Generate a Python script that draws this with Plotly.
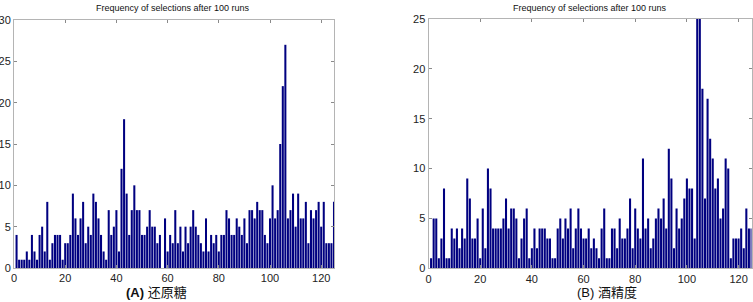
import plotly.graph_objects as go

# ---------------- data ----------------
runs_a = list(range(1, 126))
freq_a = [4, 1, 1, 1, 2, 1, 4, 2, 1, 4, 5, 2, 8, 1, 3, 4, 4, 4, 1, 3,
          3, 4, 9, 6, 4, 6, 8, 3, 5, 4, 9, 8, 6, 4, 2, 1, 7, 4, 5, 7,
          2, 12, 18, 9, 4, 7, 10, 7, 7, 4, 4, 5, 7, 5, 5, 3, 4, 0, 6, 2,
          4, 3, 7, 3, 5, 2, 5, 3, 5, 7, 5, 4, 3, 2, 6, 2, 4, 3, 4, 2,
          4, 4, 7, 6, 4, 4, 6, 5, 4, 6, 3, 7, 7, 6, 8, 7, 7, 4, 3, 6,
          10, 6, 7, 15, 22, 27, 6, 7, 9, 5, 9, 6, 6, 8, 3, 7, 6, 7, 8, 5,
          8, 3, 3, 3, 8]

runs_b = list(range(1, 126))
freq_b = [1, 5, 5, 1, 3, 8, 1, 1, 4, 3, 4, 2, 4, 3, 9, 7, 3, 3, 5, 1,
          6, 2, 10, 8, 4, 4, 4, 4, 5, 7, 4, 6, 6, 5, 1, 3, 5, 6, 1, 2,
          4, 2, 4, 4, 4, 3, 3, 1, 1, 4, 5, 3, 5, 4, 6, 2, 4, 6, 4, 3,
          3, 4, 2, 3, 2, 1, 4, 6, 1, 1, 4, 4, 2, 5, 3, 3, 4, 7, 2, 6,
          4, 3, 11, 4, 5, 2, 3, 5, 6, 5, 7, 4, 12, 9, 2, 6, 4, 5, 7, 9,
          8, 8, 3, 25, 25, 18, 7, 17, 13, 11, 8, 9, 5, 6, 11, 10, 1, 3, 3, 3,
          4, 2, 6, 4, 4]

x_ticks = [0, 20, 40, 60, 80, 100, 120]
y_ticks_a = [0, 5, 10, 15, 20, 25, 30]
y_ticks_b = [0, 5, 10, 15, 20, 25]

title_text = "Frequency of selections after 100 runs"
label_a = "<b>(A)</b> 还原糖"
label_b = "(B) 酒精度"

# ---------------- figure ----------------
W, H = 753, 302
BAR = "#000080"

fig = go.Figure()
fig.add_trace(go.Bar(x=runs_a, y=freq_a, marker=dict(color=BAR, line=dict(width=0)),
                     xaxis="x", yaxis="y", showlegend=False, hoverinfo="skip"))
fig.add_trace(go.Bar(x=runs_b, y=freq_b, marker=dict(color=BAR, line=dict(width=0)),
                     xaxis="x2", yaxis="y2", showlegend=False, hoverinfo="skip"))

def px_x(p):
    return p / W

def px_y(p):
    return 1 - p / H

axis_common = dict(
    showline=True, linecolor="#b4b4b4", linewidth=1, mirror="ticks",
    ticks="inside", ticklen=3, tickcolor="#8a8a8a", tickwidth=1,
    showgrid=False, zeroline=False, automargin=False,
    tickfont=dict(family="Liberation Sans, Arial", size=11, color="#222222"),
)

fig.update_layout(
    width=W, height=H,
    margin=dict(l=0, r=0, t=0, b=0, autoexpand=False),
    paper_bgcolor="white", plot_bgcolor="white",
    bargap=0.2,
    xaxis=dict(domain=[px_x(14), px_x(334)], range=[0, 125], tickvals=x_ticks,
               anchor="y", **axis_common),
    yaxis=dict(domain=[px_y(268), px_y(20)], range=[0, 30], tickvals=y_ticks_a,
               anchor="x", **axis_common),
    xaxis2=dict(domain=[px_x(428.5), px_x(751.5)], range=[0, 125], tickvals=x_ticks,
                anchor="y2", **axis_common),
    yaxis2=dict(domain=[px_y(268.3), px_y(19)], range=[0, 25], tickvals=y_ticks_b,
                anchor="x2", **axis_common),
    annotations=[
        dict(text=title_text, x=173 / W, y=px_y(8.5), xref="paper", yref="paper",
             showarrow=False, font=dict(family="Liberation Sans, Arial", size=9, color="#111111"),
             xanchor="center", yanchor="middle"),
        dict(text=title_text, x=590 / W, y=px_y(8.5), xref="paper", yref="paper",
             showarrow=False, font=dict(family="Liberation Sans, Arial", size=9, color="#111111"),
             xanchor="center", yanchor="middle"),
        dict(text=label_a, x=156 / W, y=px_y(292), xref="paper", yref="paper",
             showarrow=False, font=dict(family="Liberation Sans, Noto Sans CJK SC", size=13, color="#111111"),
             xanchor="center", yanchor="middle"),
        dict(text=label_b, x=607 / W, y=px_y(292), xref="paper", yref="paper",
             showarrow=False, font=dict(family="Liberation Sans, Noto Sans CJK SC", size=13, color="#111111"),
             xanchor="center", yanchor="middle"),
    ],
)

fig.write_html(
    "out.html",
    config={"displayModeBar": False},
    post_script="document.body.style.margin='0';document.body.style.overflow='hidden';",
)
